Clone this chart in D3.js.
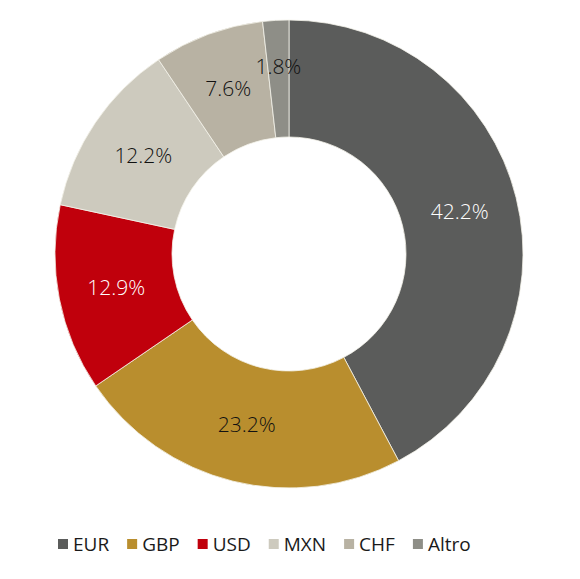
<!DOCTYPE html>
<html>
<head>
<meta charset="utf-8">
<script src="https://cdn.jsdelivr.net/npm/d3@7"></script>
<style>
  body { margin: 0; background: #fff; }
  text { font-family: "Open Sans", "Noto Sans", sans-serif; }
</style>
</head>
<body>
<svg id="chart" width="580" height="579"></svg>
<script>
// currency exposure shares (%)
var currencies = ["EUR", "GBP", "USD", "MXN", "CHF", "Altro"];
var shares = [42.2, 23.2, 12.9, 12.2, 7.6, 1.8];
var colors = ["#5b5c5b", "#b98e2e", "#c0000c", "#cdcabe", "#b8b2a3", "#8e8e87"];
var labelColors = ["#fff", "#111", "#fff", "#111", "#111", "#111"];

var svg = d3.select("#chart");
var cx = 289, cy = 254;
var outerR = 234, innerR = 117;

var data = currencies.map(function(c, i) {
    return { name: c, value: shares[i], color: colors[i], labelColor: labelColors[i] };
});

var pie = d3.pie()
    .sort(null)
    .value(function(d) { return d.value; });

var arc = d3.arc()
    .innerRadius(innerR)
    .outerRadius(outerR);

// labels sit mid-ring; very thin slices get pushed out a bit
var labelArc = d3.arc().innerRadius(176).outerRadius(176);
var smallLabelArc = d3.arc().innerRadius(188).outerRadius(188);

var g = svg.append("g")
    .attr("transform", "translate(" + cx + "," + cy + ")");

var slices = g.selectAll("g.slice")
    .data(pie(data))
    .enter().append("g")
    .attr("class", "slice");

slices.append("path")
    .attr("d", arc)
    .style("fill", function(d) { return d.data.color; })
    .style("stroke", "#f4f2ea")
    .style("stroke-width", 0.8);

slices.append("text")
    .attr("transform", function(d) {
        var p = (d.data.value < 3 ? smallLabelArc : labelArc).centroid(d);
        return "translate(" + p[0] + "," + p[1] + ")";
    })
    .attr("text-anchor", "middle")
    .attr("dy", "0.35em")
    .style("font-size", "21px")
    .style("font-weight", 300)
    .style("fill", function(d) { return d.data.labelColor; })
    .text(function(d) { return d.data.value.toFixed(1) + "%"; });

// legend
var legend = svg.append("g")
    .attr("transform", "translate(58, 544)");

var x = 0;
data.forEach(function(d) {
    var item = legend.append("g").attr("transform", "translate(" + x + ",0)");
    item.append("rect")
        .attr("x", 0)
        .attr("y", -5)
        .attr("width", 10)
        .attr("height", 10)
        .style("fill", d.color);
    var t = item.append("text")
        .attr("x", 15)
        .attr("dy", "0.35em")
        .style("font-size", "19px")
        .style("fill", "#1a1a1a")
        .text(d.name);
    x += 15 + t.node().getComputedTextLength() + 18;
});
</script>
</body>
</html>
